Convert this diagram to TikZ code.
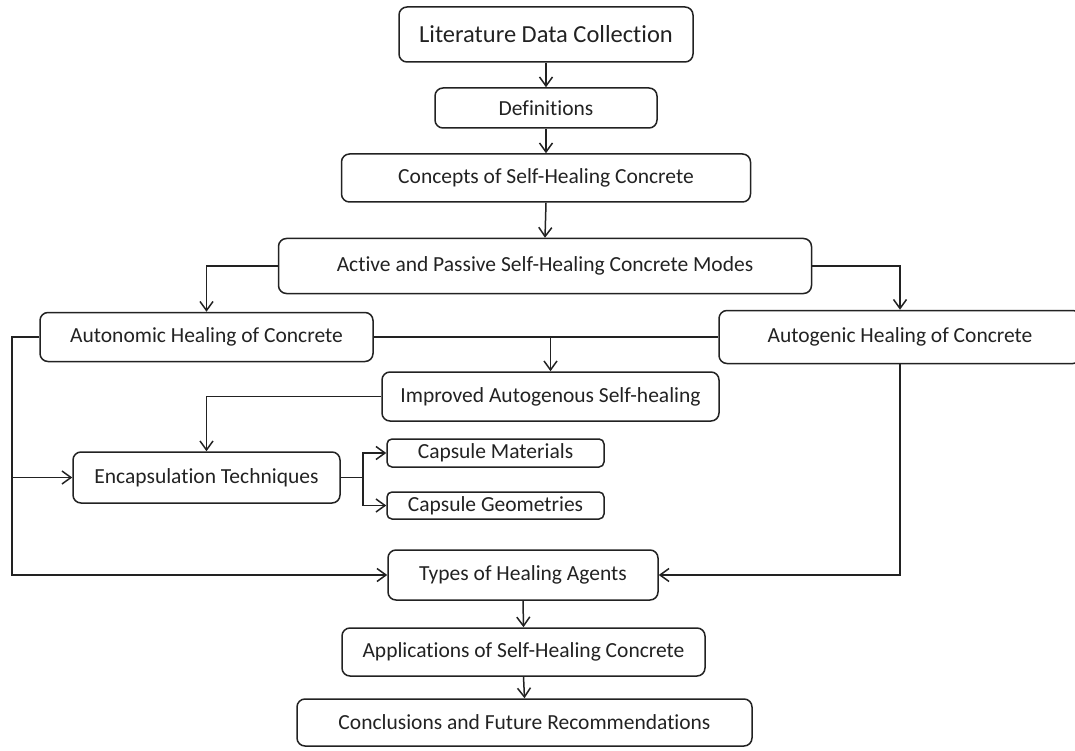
\documentclass[tikz,border=0pt]{standalone}
\usepackage{fontspec}
\setmainfont[Ligatures=NoCommon]{Carlito}
\usetikzlibrary{arrows.meta}
\definecolor{ink}{HTML}{222222}
\begin{document}
\begin{tikzpicture}[x=1pt,y=-1pt,
  box/.style={draw=ink, rounded corners=8pt, line width=1.5pt, inner sep=0pt, text=ink, font=\fontsize{21.5}{26}\selectfont},
  sbox/.style={box, rounded corners=5pt},
  ar/.style={draw=ink, line width=1.5pt, -{Straight Barb[length=9pt,width=13pt,line width=1.5pt]}},
  ln/.style={draw=ink, line width=1.5pt}]
\useasboundingbox (0,0) rectangle (1075,751);
\clip (0,0) rectangle (1075,751);
\node[box, minimum width=294pt, minimum height=55pt, font=\fontsize{24.5}{29}\selectfont] (lit) at (546,34.5) {Literature Data Collection};
\node[box, minimum width=222pt, minimum height=40pt] (def) at (546,108) {Definitions};
\node[box, minimum width=409pt, minimum height=48pt] (con) at (546,178) {Concepts of Self-Healing Concrete};
\node[box, minimum width=533pt, minimum height=55pt] (act) at (545,266) {Active and Passive Self-Healing Concrete Modes};
\node[box, minimum width=333pt, minimum height=49pt] (aun) at (206.5,337) {Autonomic Healing of Concrete};
\node[box, minimum width=362pt, minimum height=53pt] (agn) at (900,337) {Autogenic Healing of Concrete};
\node[box, minimum width=337pt, minimum height=49pt] (imp) at (550.5,396.5) {Improved Autogenous Self-healing};
\node[box, minimum width=267pt, minimum height=51pt] (enc) at (206.5,477.5) {Encapsulation Techniques};
\node[sbox, minimum width=217pt, minimum height=28pt] (cm) at (495.5,453) {Capsule Materials};
\node[sbox, minimum width=217pt, minimum height=27pt] (cg) at (495.5,505.5) {Capsule Geometries};
\node[box, minimum width=270pt, minimum height=50pt] (typ) at (523,575) {Types of Healing Agents};
\node[box, minimum width=363pt, minimum height=48pt] (app) at (523.5,652) {Applications of Self-Healing Concrete};
\node[box, minimum width=455pt, minimum height=47pt] (cnc) at (524.5,722.5) {Conclusions and Future Recommendations};
\coordinate (lb) at (12,337);
\coordinate (eb) at (363,477.5);
\draw[ar] (lit.south) -- (def.north);
\draw[ar] (def.south) -- (con.north);
\draw[ar] (con.south) -- (act.north);
\draw[ar] (act.west) -| (aun.north);
\draw[ar] (act.east) -| (agn.north);
\draw[ln] (aun.east) -- (agn.west);
\draw[ar] (imp.north |- aun.east) -- (imp.north);
\draw[ar] (imp.west) -| (enc.north);
\draw[ar] (aun.west) -- (lb) |- (typ.west);
\draw[ar] (lb |- enc.west) -- (enc.west);
\draw[ln] (enc.east) -- (eb);
\draw[ar] (eb) |- (cm.west);
\draw[ar] (eb) |- (cg.west);
\draw[ar] (agn.south) |- (typ.east);
\draw[ar] (typ.south) -- (app.north);
\draw[ar] (app.south) -- (cnc.north);
\end{tikzpicture}
\end{document}
